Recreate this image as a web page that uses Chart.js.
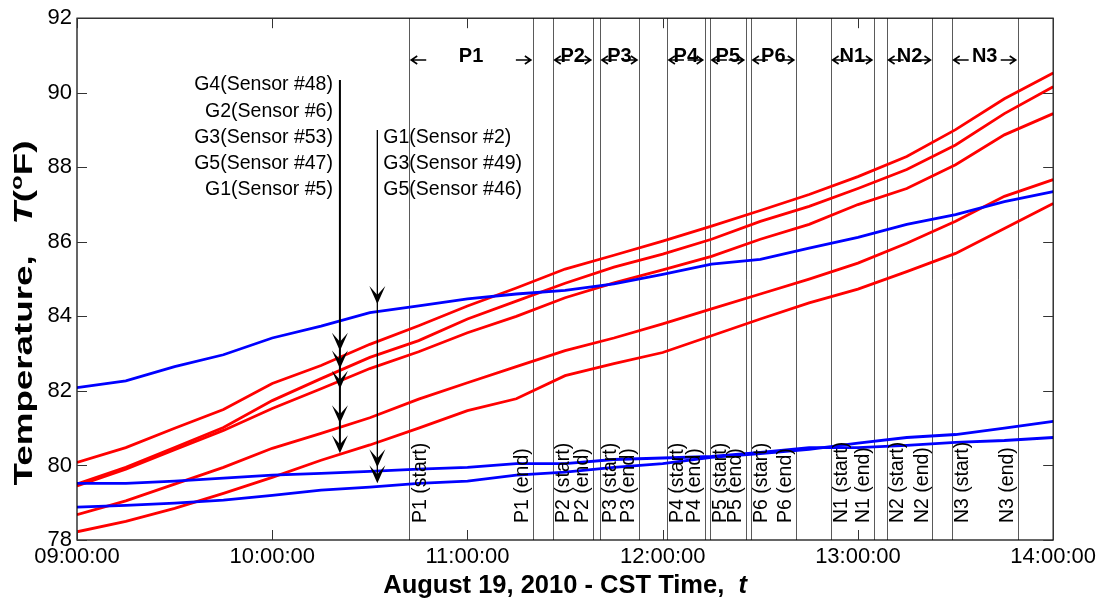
<!DOCTYPE html>
<html>
<head>
<meta charset="utf-8">
<script src="https://cdn.jsdelivr.net/npm/chart.js@4.4.1/dist/chart.umd.min.js"></script>
<style>
  html, body { margin: 0; padding: 0; background: #fff; }
  #wrap { width: 1100px; height: 600px; position: relative; }
</style>
</head>
<body>
<div id="wrap"><canvas id="chartTemp"></canvas></div>
<script>
// minutes after 09:00:00
const timeMinutes = [0, 15, 30, 45, 60, 75, 90, 105, 120, 135, 150, 165, 180, 195, 210, 225, 240, 255, 270, 285, 300];
const tickMinutes = [0, 60, 120, 180, 240, 300];
const tickLabels = ["09:00:00", "10:00:00", "11:00:00", "12:00:00", "13:00:00", "14:00:00"];

// red sensors (G)
const g4Sensor48 = [80.08, 80.48, 81.0, 81.5, 82.2, 82.68, 83.25, 83.75, 84.28, 84.76, 85.27, 85.64, 86.02, 86.42, 86.84, 87.27, 87.75, 88.29, 89.01, 89.84, 90.53];
const g2Sensor6 = [79.5, 79.95, 80.48, 81.02, 81.74, 82.33, 82.9, 83.35, 83.93, 84.41, 84.89, 85.32, 85.67, 86.07, 86.55, 86.95, 87.43, 87.94, 88.6, 89.44, 90.16];
const g3Sensor53 = [79.45, 79.9, 80.42, 80.94, 81.53, 82.06, 82.6, 83.05, 83.56, 84.0, 84.5, 84.9, 85.25, 85.61, 86.07, 86.47, 87.0, 87.43, 88.07, 88.87, 89.44];
const g5Sensor47 = [78.68, 79.05, 79.5, 79.95, 80.46, 80.86, 81.28, 81.78, 82.22, 82.65, 83.08, 83.42, 83.8, 84.2, 84.6, 85.0, 85.43, 85.96, 86.55, 87.22, 87.67];
const g1Sensor5 = [78.22, 78.5, 78.85, 79.25, 79.68, 80.14, 80.55, 81.0, 81.47, 81.79, 82.41, 82.73, 83.03, 83.48, 83.93, 84.36, 84.73, 85.2, 85.69, 86.36, 87.03];

// blue sensors
const g1Sensor2 = [82.09, 82.27, 82.65, 82.97, 83.42, 83.74, 84.1, 84.28, 84.47, 84.6, 84.7, 84.87, 85.13, 85.4, 85.53, 85.83, 86.12, 86.47, 86.73, 87.08, 87.35];
const g3Sensor49 = [79.52, 79.52, 79.58, 79.66, 79.74, 79.79, 79.84, 79.9, 79.95, 80.05, 80.05, 80.16, 80.2, 80.24, 80.35, 80.48, 80.48, 80.54, 80.62, 80.67, 80.75];
const g5Sensor46 = [78.88, 78.93, 78.99, 79.07, 79.2, 79.34, 79.42, 79.52, 79.58, 79.74, 79.82, 79.95, 80.05, 80.22, 80.32, 80.43, 80.6, 80.75, 80.83, 81.0, 81.18];

// test periods (minutes after 09:00)
const eventNames = ["P1", "P2", "P3", "P4", "P5", "P6", "N1", "N2", "N3"];
const eventStart = [102.1, 146.2, 160.7, 181.3, 194.5, 207.1, 231.6, 248.8, 268.8];
const eventEnd = [140.1, 158.5, 172.7, 192.9, 205.5, 220.9, 244.9, 262.9, 289.1];

// annotation arrows (time, top value, tip values)
const leftArrowLabels = ["G4(Sensor #48)", "G2(Sensor #6)", "G3(Sensor #53)", "G5(Sensor #47)", "G1(Sensor #5)"];
const leftArrowTime = 80.8;
const leftArrowTop = 90.34;
const leftArrowTips = [83.08, 82.6, 82.06, 81.13, 80.33];

const rightArrowLabels = ["G1(Sensor #2)", "G3(Sensor #49)", "G5(Sensor #46)"];
const rightArrowTime = 92.3;
const rightArrowTop = 89.0;
const rightArrowTips = [84.33, 79.95, 79.52];

const FONT = "'Liberation Sans', Arial, Helvetica, sans-serif";

function toPoints(values) {
  return values.map(function (v, i) {
    return { x: timeMinutes[i], y: v };
  });
}

function lineDataset(label, values, color) {
  return {
    label: label,
    data: toPoints(values),
    borderColor: color,
    backgroundColor: color,
    borderWidth: 2.8,
    pointRadius: 0,
    tension: 0,
    fill: false,
  };
}

function arrowHead(ctx, x, tipY, w, h) {
  ctx.beginPath();
  ctx.moveTo(x, tipY);
  ctx.lineTo(x - w / 2, tipY - h);
  ctx.lineTo(x, tipY - h * 0.5);
  ctx.lineTo(x + w / 2, tipY - h);
  ctx.closePath();
  ctx.fill();
}

function smallArrow(ctx, x1, x2, y) {
  var d = x2 > x1 ? -1 : 1;
  ctx.beginPath();
  ctx.moveTo(x1, y);
  ctx.lineTo(x2, y);
  ctx.moveTo(x2 + d * 6, y - 4);
  ctx.lineTo(x2, y);
  ctx.lineTo(x2 + d * 6, y + 4);
  ctx.stroke();
}

// draws mixed-style runs one after another from x, returns total width
function drawRuns(ctx, runs, x, y, measureOnly) {
  var cx = x;
  runs.forEach(function (r) {
    ctx.font = r.font;
    var w = ctx.measureText(r.text).width;
    if (!measureOnly) ctx.fillText(r.text, cx, y + (r.dy || 0));
    cx += w;
  });
  return cx - x;
}

const decorPlugin = {
  id: "decor",
  beforeDatasetsDraw(chart) {
    var ctx = chart.ctx;
    var xs = chart.scales.x;
    var a = chart.chartArea;
    ctx.save();
    ctx.strokeStyle = "#5a5a5a";
    ctx.lineWidth = 1;
    eventStart.concat(eventEnd).forEach(function (t) {
      var x = Math.round(xs.getPixelForValue(t)) + 0.5;
      ctx.beginPath();
      ctx.moveTo(x, a.top);
      ctx.lineTo(x, a.bottom);
      ctx.stroke();
    });
    ctx.restore();
  },
  afterDatasetsDraw(chart) {
    var ctx = chart.ctx;
    var xs = chart.scales.x;
    var ys = chart.scales.y;
    var a = chart.chartArea;
    ctx.save();

    // box + inward ticks
    ctx.strokeStyle = "#000";
    ctx.lineWidth = 1.2;
    ctx.strokeRect(a.left, a.top, a.right - a.left, a.bottom - a.top);
    ctx.lineWidth = 1;
    ctx.strokeStyle = "#333";
    ctx.beginPath();
    tickMinutes.forEach(function (t) {
      var x = Math.round(xs.getPixelForValue(t)) + 0.5;
      ctx.moveTo(x, a.bottom); ctx.lineTo(x, a.bottom - 10);
      ctx.moveTo(x, a.top); ctx.lineTo(x, a.top + 10);
    });
    ys.ticks.forEach(function (tk) {
      var y = Math.round(ys.getPixelForValue(tk.value)) + 0.5;
      ctx.moveTo(a.left, y); ctx.lineTo(a.left + 10, y);
      ctx.moveTo(a.right, y); ctx.lineTo(a.right - 10, y);
    });
    ctx.stroke();

    // rotated start/end labels
    ctx.fillStyle = "#000";
    ctx.font = "19.5px " + FONT;
    ctx.textBaseline = "middle";
    ctx.textAlign = "left";
    eventNames.forEach(function (name, i) {
      var xs1 = xs.getPixelForValue(eventStart[i]) + 11;
      var xe1 = xs.getPixelForValue(eventEnd[i]) - 10;
      [[xs1, name + " (start)"], [xe1, name + " (end)"]].forEach(function (p) {
        ctx.save();
        ctx.translate(p[0], a.bottom - 17);
        ctx.rotate(-Math.PI / 2);
        ctx.fillText(p[1], 0, 0);
        ctx.restore();
      });
    });

    // period headers with arrows
    ctx.font = "bold 20px " + FONT;
    ctx.textAlign = "center";
    ctx.strokeStyle = "#000";
    ctx.lineWidth = 1.6;
    eventNames.forEach(function (name, i) {
      var x1 = xs.getPixelForValue(eventStart[i]);
      var x2 = xs.getPixelForValue(eventEnd[i]);
      ctx.fillText(name, (x1 + x2) / 2, 56);
      smallArrow(ctx, x1 + 17, x1 + 2, 60);
      smallArrow(ctx, x2 - 17, x2 - 2, 60);
    });

    // annotation arrows
    ctx.fillStyle = "#000";
    var lx = xs.getPixelForValue(leftArrowTime);
    ctx.lineWidth = 2;
    ctx.beginPath();
    ctx.moveTo(lx, ys.getPixelForValue(leftArrowTop));
    ctx.lineTo(lx, ys.getPixelForValue(leftArrowTips[leftArrowTips.length - 1]) - 4);
    ctx.stroke();
    leftArrowTips.forEach(function (v) {
      arrowHead(ctx, lx, ys.getPixelForValue(v), 16, 18);
    });
    var rx = xs.getPixelForValue(rightArrowTime);
    ctx.lineWidth = 1.3;
    ctx.beginPath();
    ctx.moveTo(rx, ys.getPixelForValue(rightArrowTop));
    ctx.lineTo(rx, ys.getPixelForValue(rightArrowTips[rightArrowTips.length - 1]) - 4);
    ctx.stroke();
    rightArrowTips.forEach(function (v) {
      arrowHead(ctx, rx, ys.getPixelForValue(v), 16, 18);
    });

    // annotation text
    ctx.font = "19.5px " + FONT;
    ctx.textAlign = "right";
    var ly0 = ys.getPixelForValue(leftArrowTop) + 5;
    leftArrowLabels.forEach(function (s, i) {
      ctx.fillText(s, lx - 7, ly0 + i * 26.2);
    });
    ctx.textAlign = "left";
    rightArrowLabels.forEach(function (s, i) {
      ctx.fillText(s, rx + 6, ly0 + (i + 2) * 26.2);
    });

    // axis titles
    ctx.textAlign = "left";
    ctx.textBaseline = "alphabetic";
    var bold = "bold 25.5px " + FONT;
    var xRuns = [
      { text: "August 19, 2010 - CST Time,  ", font: bold },
      { text: "t", font: "italic bold 25.5px " + FONT },
    ];
    var xw = drawRuns(ctx, xRuns, 0, 0, true);
    drawRuns(ctx, xRuns, (a.left + a.right) / 2 - xw / 2, 593);

    var yBold = "bold 26px " + FONT;
    var yRuns = [
      { text: "Temperature,   ", font: yBold },
      { text: "T", font: "italic bold 26px " + FONT },
      { text: "(", font: yBold },
      { text: "o", font: "bold 17px " + FONT, dy: -10 },
      { text: "F)", font: yBold },
    ];
    var yw = drawRuns(ctx, yRuns, 0, 0, true);
    ctx.save();
    ctx.translate(32, 313);
    ctx.rotate(-Math.PI / 2);
    ctx.scale(345 / yw, 1);
    drawRuns(ctx, yRuns, -yw / 2, 0);
    ctx.restore();

    ctx.restore();
  },
};

document.addEventListener("DOMContentLoaded", function () {
  Chart.defaults.font.family = FONT;
  Chart.defaults.color = "#000";

  var canvas = document.getElementById("chartTemp");

  new Chart(canvas, {
    type: "line",
    data: {
      datasets: [
        lineDataset("G1(Sensor #2)", g1Sensor2, "#0000ff"),
        lineDataset("G3(Sensor #49)", g3Sensor49, "#0000ff"),
        lineDataset("G5(Sensor #46)", g5Sensor46, "#0000ff"),
        lineDataset("G4(Sensor #48)", g4Sensor48, "#ff0000"),
        lineDataset("G2(Sensor #6)", g2Sensor6, "#ff0000"),
        lineDataset("G3(Sensor #53)", g3Sensor53, "#ff0000"),
        lineDataset("G5(Sensor #47)", g5Sensor47, "#ff0000"),
        lineDataset("G1(Sensor #5)", g1Sensor5, "#ff0000"),
      ],
    },
    options: {
      responsive: true,
      maintainAspectRatio: false,
      animation: false,
      layout: {
        padding: { left: 0, right: 46, top: 16, bottom: 0 },
      },
      plugins: {
        legend: { display: false },
        tooltip: { enabled: false },
      },
      scales: {
        x: {
          type: "linear",
          min: 0,
          max: 300,
          afterBuildTicks: function (scale) {
            scale.ticks = tickMinutes.map(function (v) { return { value: v }; });
          },
          afterFit: function (scale) {
            scale.height = 60;
          },
          ticks: {
            autoSkip: false,
            maxRotation: 0,
            padding: 4,
            font: { size: 22 },
            color: "#000",
            callback: function (value) {
              var i = tickMinutes.indexOf(value);
              return i >= 0 ? tickLabels[i] : "";
            },
          },
          grid: { display: false, drawTicks: false },
          border: { display: false },
        },
        y: {
          min: 78,
          max: 92,
          afterFit: function (scale) {
            scale.width = 77;
          },
          ticks: {
            stepSize: 2,
            padding: 5,
            font: { size: 22 },
            color: "#000",
          },
          grid: { display: false, drawTicks: false },
          border: { display: false },
        },
      },
    },
    plugins: [decorPlugin],
  });
});
</script>
</body>
</html>
